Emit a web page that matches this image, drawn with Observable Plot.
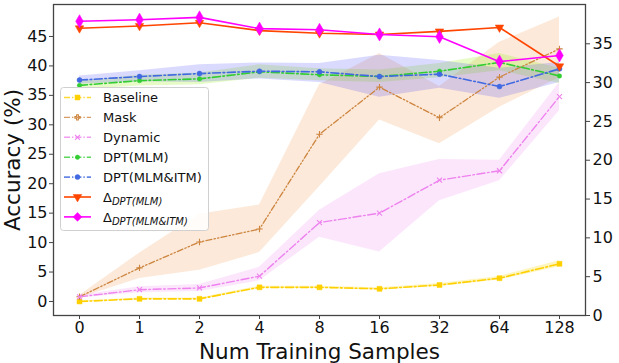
<!DOCTYPE html>
<html><head><meta charset="utf-8">
<script src="https://cdn.jsdelivr.net/npm/d3@7"></script>
<script src="https://cdn.jsdelivr.net/npm/@observablehq/plot@0.6"></script>
<style>body{margin:0;background:#fff}</style>
</head><body><div id="chart"></div>
<script>
// ---- data ----
const samples = ["0","1","2","4","8","16","32","64","128"];
const leftTicks = [0,5,10,15,20,25,30,35,40,45];
const rightTicks = [0,5,10,15,20,25,30,35];

const baseline   = [0.0, 0.45, 0.45, 2.4, 2.4, 2.15, 2.8, 3.95, 6.4];
const baselineLo = [-0.1, 0.3, 0.3, 2.2, 2.2, 1.95, 2.55, 3.65, 5.9];
const baselineHi = [0.1, 0.6, 0.6, 2.6, 2.6, 2.35, 3.05, 4.25, 6.9];

const mask   = [0.8, 5.7, 10.1, 12.3, 28.4, 36.4, 31.2, 38.1, 42.9];
const maskLo = [0.6, 3.9, 5.3, 8.3, 19.5, 30.8, 26.8, 33.0, 38.0];
const maskHi = [1.0, 8.2, 14.8, 16.4, 36.8, 42.1, 36.5, 44.0, 48.3];

const dynamic = [0.8, 2.0, 2.3, 4.3, 13.4, 15.0, 20.6, 22.2, 34.8];
const dynLo   = [0.6, 1.5, 1.7, 3.5, 10.9, 8.4, 17.1, 20.5, 32.4];
const dynHi   = [1.0, 2.5, 2.9, 5.8, 15.5, 21.7, 24.1, 24.0, 37.2];

const dptMlm   = [36.7, 37.5, 37.8, 39.0, 38.5, 38.2, 39.1, 40.6, 38.3];
const dptMlmLo = [36.0, 36.6, 36.8, 37.9, 37.5, 37.2, 38.0, 39.2, 37.0];
const dptMlmHi = [37.4, 38.4, 38.8, 40.2, 39.5, 39.3, 40.4, 42.1, 39.6];

const dptItm   = [37.6, 38.2, 38.7, 39.1, 39.0, 38.2, 38.6, 36.5, 39.5];
const dptItmLo = [36.9, 37.3, 37.2, 37.8, 37.2, 34.7, 36.2, 34.5, 37.2];
const dptItmHi = [38.3, 39.2, 40.2, 40.5, 40.4, 41.8, 40.9, 39.6, 40.6];

// right axis series
const deltaMlm = [37.0, 37.3, 37.7, 36.7, 36.35, 36.2, 36.6, 37.1, 32.1];
const deltaItm = [37.9, 38.1, 38.4, 36.95, 36.8, 36.2, 35.9, 32.7, 33.5];

// ---- scales ----
const leftDomain = [-2.38, 50.43];
const rightDomain = [0, 40.06];
const toLeft = r => leftDomain[0] + (r - rightDomain[0]) / (rightDomain[1] - rightDomain[0]) * (leftDomain[1] - leftDomain[0]);
const fromLeft = l => rightDomain[0] + (l - leftDomain[0]) / (leftDomain[1] - leftDomain[0]) * (rightDomain[1] - rightDomain[0]);

const triDown = {
  draw(ctx, size) {
    const s = Math.sqrt(size);
    const w = s * 1.55, h = s * 1.35;
    ctx.moveTo(-w / 2, -h / 3);
    ctx.lineTo(w / 2, -h / 3);
    ctx.lineTo(0, 2 * h / 3);
    ctx.closePath();
  }
};

const DD = "8,2.6,1.6,2.6";
const series = [
  {name: "Baseline", v: baseline, lo: baselineLo, hi: baselineHi, color: "#FFD000", band: "#FFD700", bandOp: 0.25, dash: DD, symbol: "square", r: 2.8, filled: true, sw: 1.6},
  {name: "Mask", v: mask, lo: maskLo, hi: maskHi, color: "#CD853F", band: "#F4A460", bandOp: 0.24, dash: "6,2.2,1.4,2.2,1.4,2.2", symbol: "plus", r: 2.2, filled: false, sw: 1.3},
  {name: "Dynamic", v: dynamic, lo: dynLo, hi: dynHi, color: "#EE82EE", band: "#EE82EE", bandOp: 0.2, dash: DD, symbol: "times", r: 2.4, filled: false, sw: 1.4},
  {name: "DPT(MLM)", v: dptMlm, lo: dptMlmLo, hi: dptMlmHi, color: "#32CD32", band: "#9AEF1A", bandOp: 0.25, dash: DD, symbol: "circle", r: 2.2, filled: true, sw: 1.6},
  {name: "DPT(MLM&ITM)", v: dptItm, lo: dptItmLo, hi: dptItmHi, color: "#4169E1", band: "#3030FF", bandOp: 0.18, dash: DD, symbol: "circle", r: 2.5, filled: true, sw: 1.6}
];
const deltas = [
  {name: "DPT(MLM)", v: deltaMlm, color: "#FF4500", symbol: triDown, r: 3.1},
  {name: "DPT(MLM&ITM)", v: deltaItm, color: "#FF00FF", symbol: "diamond", r: 4.0}
];

const rowsOf = s => samples.map((x, i) => ({x, v: s.v[i], lo: s.lo ? s.lo[i] : null, hi: s.hi ? s.hi[i] : null}));

const marks = [];
for (const s of series) {
  marks.push(Plot.areaY(rowsOf(s), {x: "x", y1: "lo", y2: "hi", fill: s.band, fillOpacity: s.bandOp}));
}
for (const s of series) {
  const rows = rowsOf(s);
  marks.push(Plot.line(rows, {x: "x", y: "v", stroke: s.color, strokeWidth: s.sw, strokeDasharray: s.dash}));
  marks.push(Plot.dot(rows, {x: "x", y: "v", symbol: () => s.symbol, r: s.r,
    fill: s.filled ? s.color : "none", stroke: s.color, strokeWidth: s.filled ? 0.5 : 1.1}));
}
for (const s of deltas) {
  const rows = samples.map((x, i) => ({x, v: toLeft(s.v[i])}));
  marks.push(Plot.line(rows, {x: "x", y: "v", stroke: s.color, strokeWidth: 1.6}));
  marks.push(Plot.dot(rows, {x: "x", y: "v", symbol: () => s.symbol, r: s.r, fill: s.color, stroke: s.color, strokeWidth: 0.5}));
}

marks.push(
  Plot.frame({stroke: "#444", strokeWidth: 1.3}),
  Plot.axisX({tickSize: 4, tickPadding: 2, fontSize: 16, label: null, stroke: "#444"}),
  Plot.axisY(leftTicks, {anchor: "left", tickSize: 4, tickPadding: 2, fontSize: 16, label: null, stroke: "#444"}),
  Plot.axisY(rightTicks.map(toLeft), {anchor: "right", tickSize: 4, tickPadding: 3, fontSize: 16, label: null,
    tickFormat: d => String(Math.round(fromLeft(d))), stroke: "#444"}),
  Plot.text(["Accuracy (%)"], {frameAnchor: "left", dx: -40, rotate: -90, fontSize: 21.5, text: d => d, fill: "#111",
    textAnchor: "middle", lineAnchor: "middle"}),
  Plot.text(["Num Training Samples"], {frameAnchor: "bottom", dy: 37, fontSize: 21.5, text: d => d, fill: "#111",
    textAnchor: "middle", lineAnchor: "middle"})
);

const chart = Plot.plot({
  width: 619, height: 363,
  marginLeft: 53, marginRight: 34, marginTop: 4, marginBottom: 48,
  style: {fontFamily: "DejaVu Sans", background: "white", color: "#111"},
  x: {type: "point", domain: samples, padding: 0.4},
  y: {domain: leftDomain},
  marks
});
document.getElementById("chart").appendChild(chart);

// ---- legend inside the plot ----
const svg = d3.select(chart);
const lg = svg.append("g").attr("font-family", "DejaVu Sans").attr("font-size", 13).attr("text-anchor", "start");
lg.append("rect").attr("x", 60.5).attr("y", 87.5).attr("width", 148).attr("height", 143)
  .attr("rx", 3).attr("fill", "white").attr("fill-opacity", 0.85).attr("stroke", "#d0d0d0");
const entries = [
  ...series.map(s => ({label: s.name, color: s.color, dash: s.dash, symbol: s.symbol, r: s.r, filled: s.filled, sw: s.sw, delta: false})),
  ...deltas.map(s => ({label: s.name, color: s.color, dash: null, symbol: s.symbol, r: s.r, filled: true, sw: 1.6, delta: true}))
];
const symMap = {square: d3.symbolSquare, plus: d3.symbolCross, times: d3.symbolX, circle: d3.symbolCircle, diamond: d3.symbolDiamond2};
entries.forEach((e, i) => {
  const y = 97.5 + i * 19.9;
  lg.append("line").attr("x1", 64).attr("x2", 91).attr("y1", y).attr("y2", y)
    .attr("stroke", e.color).attr("stroke-width", e.sw).attr("stroke-dasharray", e.dash ? "6,2,1.4,2" : null).attr("stroke-opacity", e.delta ? 1 : 0.8);
  const type = typeof e.symbol === "string" ? symMap[e.symbol] : e.symbol;
  lg.append("path").attr("transform", `translate(77.5,${y})`)
    .attr("d", d3.symbol(type, Math.PI * e.r * e.r)())
    .attr("fill", e.filled ? e.color : "none").attr("stroke", e.color).attr("stroke-width", e.filled ? 0.5 : 1.1);
  const t = lg.append("text").attr("x", 103).attr("y", y + 4.6).attr("fill", "#111").attr("text-anchor", "start");
  if (e.delta) {
    t.append("tspan").text("Δ");
    t.append("tspan").attr("font-size", 10).attr("font-style", "italic").attr("dy", 3).text(e.label);
  } else {
    t.text(e.label);
  }
});
</script>
</body></html>
